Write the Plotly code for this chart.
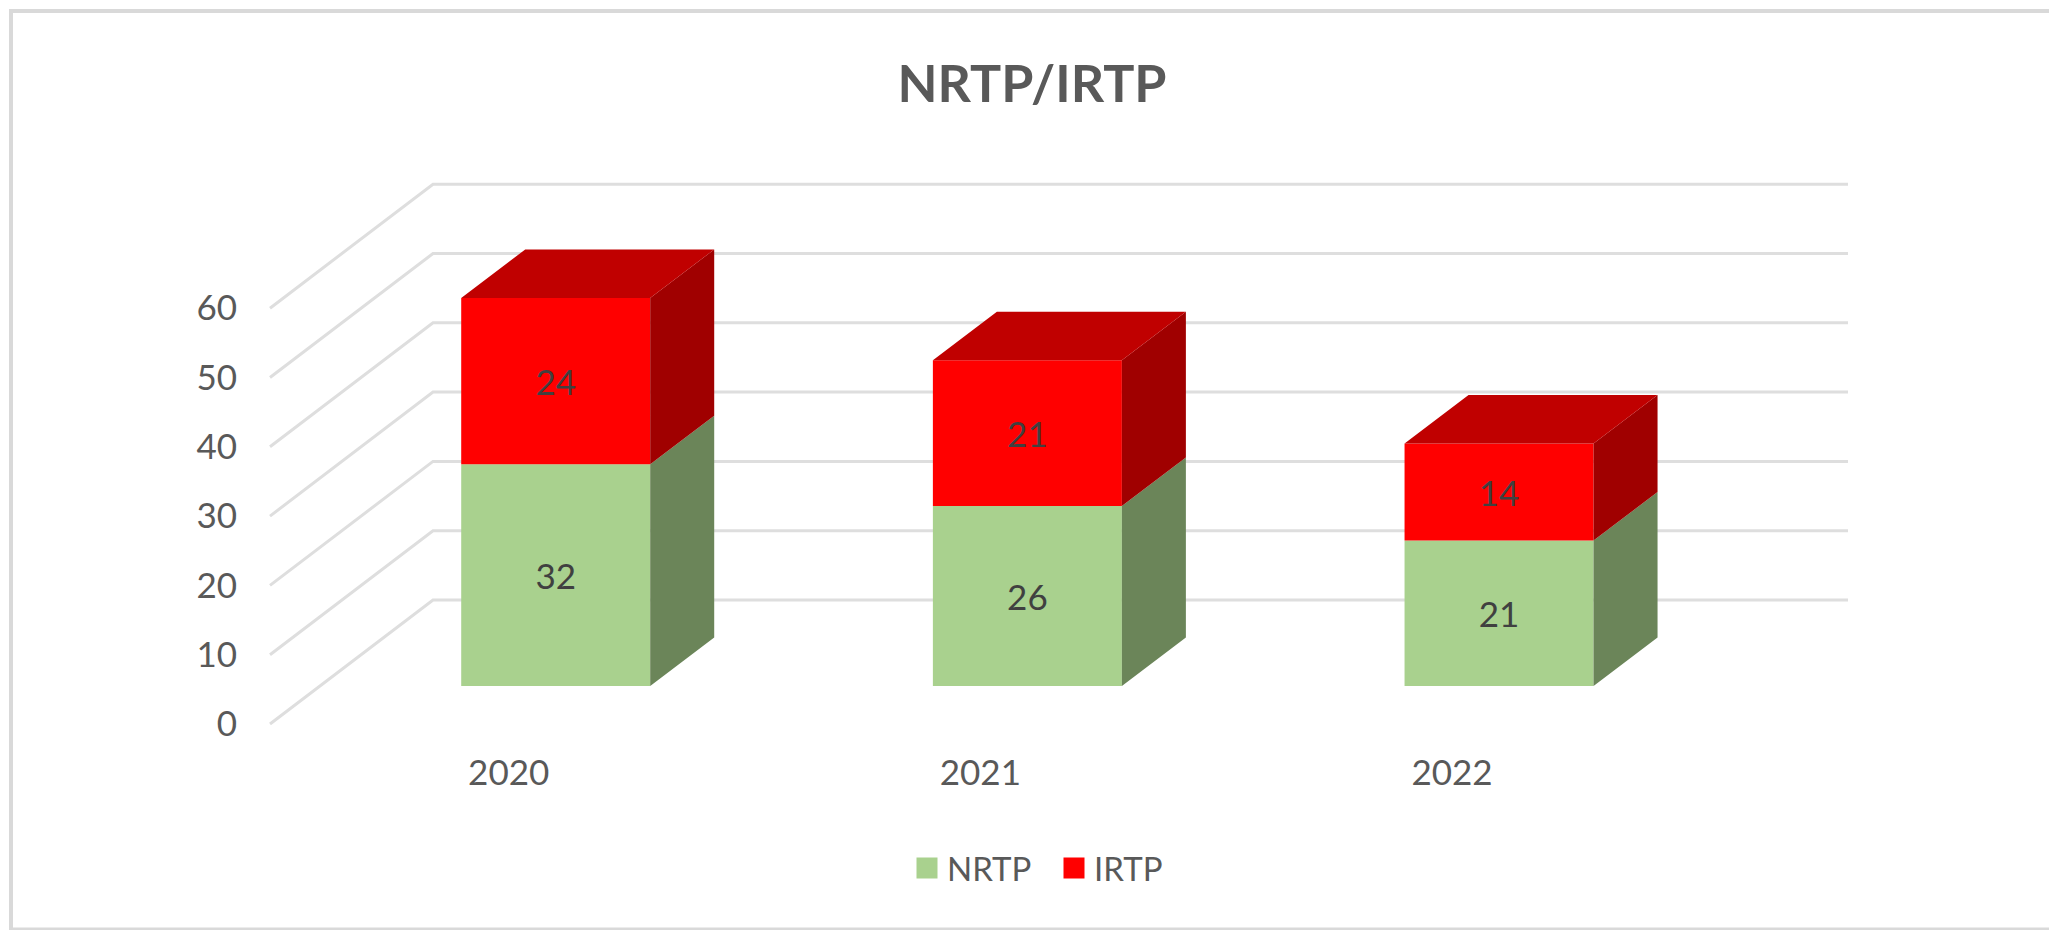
import plotly.graph_objects as go

# ---- data ----
years = ["2020", "2021", "2022"]
nrtp = [32, 26, 21]
irtp = [24, 21, 14]
y_ticks = [0, 10, 20, 30, 40, 50, 60]

# ---- style / projection constants ----
W, H = 2049, 930
PX_X = 471.67        # px per category
PX_Y = 6.93          # px per value unit
X0_PX = 270 + PX_X / 2  # px of category 0 on the front edge of the floor
Y0_PX = 724          # px of value 0 on the front edge of the floor
WALL_DX, WALL_DY = 163 / PX_X, 124 / PX_Y     # full depth of chart box
BAR_F0 = 0.306       # depth fraction at which bars' front face sits
BAR_DX, BAR_DY = 64 / PX_X, 48.5 / PX_Y       # depth of bar
BAR_W = 189 / PX_X
GREEN, GREEN_S = "#A9D18E", "#6B8559"
RED, RED_TOP, RED_S = "#FF0000", "#C00000", "#A00000"
GRID = "#DEDEDE"
TXT = "#595959"
LBL = "#404040"
FONT = "Lato"
FS = 35

xs = list(range(len(years)))
bx = [x + BAR_F0 * WALL_DX for x in xs]
by0 = BAR_F0 * WALL_DY
base_n = [by0] * len(xs)
base_i = [by0 + n for n in nrtp]


def side_faces(bases, vals):
    px, py = [], []
    for x, b, v in zip(bx, bases, vals):
        r = x + BAR_W / 2
        px += [r, r + BAR_DX, r + BAR_DX, r, r, None]
        py += [b, b + BAR_DY, b + v + BAR_DY, b + v, b, None]
    return px, py


def top_faces(bases, vals):
    px, py = [], []
    for x, b, v in zip(bx, bases, vals):
        l, r = x - BAR_W / 2, x + BAR_W / 2
        t = b + v
        px += [l, r, r + BAR_DX, l + BAR_DX, l, None]
        py += [t, t, t + BAR_DY, t + BAR_DY, t, None]
    return px, py


fig = go.Figure()

for name, vals, bases, col in [("NRTP", nrtp, base_n, GREEN), ("IRTP", irtp, base_i, RED)]:
    fig.add_trace(go.Bar(
        x=bx, y=vals, base=bases, width=BAR_W, name=name, showlegend=False,
        marker=dict(color=col, line=dict(width=0)),
        text=[str(v) for v in vals], textposition="inside", insidetextanchor="middle",
        textangle=0, constraintext="none",
        textfont=dict(family=FONT, size=FS, color=LBL), hoverinfo="skip",
    ))

for (fx, fy), col in [
    (side_faces(base_n, nrtp), GREEN_S),
    (side_faces(base_i, irtp), RED_S),
    (top_faces(base_i, irtp), RED_TOP),
]:
    fig.add_trace(go.Scatter(x=fx, y=fy, mode="lines", fill="toself", fillcolor=col,
                             line=dict(width=0, color=col), showlegend=False, hoverinfo="skip"))

# legend entries
for name, col in [("NRTP", GREEN), ("IRTP", RED)]:
    fig.add_trace(go.Scatter(x=[None], y=[None], mode="markers", name=name,
                             marker=dict(symbol="square", size=16, color=col,
                                         line=dict(width=5, color=col))))

# chart-box gridlines: side wall then back wall
left = -0.5
right = len(years) - 0.5
shapes = []
for v in y_ticks:
    path = (f"M {left} {v} L {left + WALL_DX} {v + WALL_DY} "
            f"L {right + WALL_DX} {v + WALL_DY}")
    shapes.append(dict(type="path", path=path, xref="x", yref="y", layer="below",
                       line=dict(color=GRID, width=3)))

# outer chart frame (open on the right)
FRAME = "#D9D9D9"
shapes += [
    dict(type="line", xref="paper", yref="paper", x0=11 / W, x1=11 / W, y0=0, y1=1 - 9 / H,
         line=dict(color=FRAME, width=4)),
    dict(type="line", xref="paper", yref="paper", x0=9 / W, x1=1, y0=1 - 11 / H, y1=1 - 11 / H,
         line=dict(color=FRAME, width=4)),
    dict(type="line", xref="paper", yref="paper", x0=9 / W, x1=1, y0=1 / H, y1=1 / H,
         line=dict(color=FRAME, width=3)),
]

fig.update_layout(
    width=W, height=H, autosize=False,
    margin=dict(l=0, r=0, t=0, b=0),
    paper_bgcolor="white", plot_bgcolor="rgba(0,0,0,0)",
    barmode="overlay",
    shapes=shapes,
    title=dict(text="<b>NRTP/IRTP</b>", x=1032 / W, xanchor="center", xref="paper",
               y=1 - 84 / H, yanchor="middle", yref="paper",
               font=dict(family=FONT, size=52, color=TXT)),
    xaxis=dict(
        range=[(0 - X0_PX) / PX_X, (W - X0_PX) / PX_X],
        tickmode="array", tickvals=[x + 0.006 for x in xs], ticktext=years,
        anchor="free", position=1 - 749 / H,
        showgrid=False, zeroline=False, showline=False, ticks="",
        tickfont=dict(family=FONT, size=FS, color=TXT), fixedrange=True,
    ),
    yaxis=dict(
        range=[(Y0_PX - H) / PX_Y, Y0_PX / PX_Y],
        tickmode="array", tickvals=y_ticks,
        anchor="free", position=237 / W,
        showgrid=False, zeroline=False, showline=False, ticks="",
        tickfont=dict(family=FONT, size=FS, color=TXT), fixedrange=True,
    ),
    showlegend=True,
    legend=dict(orientation="h", x=907 / W, xanchor="left", y=1 - 868 / H, yanchor="middle",
                font=dict(family=FONT, size=33, color=TXT), bgcolor="rgba(0,0,0,0)",
                traceorder="normal", entrywidth=102, entrywidthmode="pixels"),
)

fig.write_html("out.html", config={"displayModeBar": False},
               post_script="document.body.style.margin='0';document.documentElement.style.overflow='hidden';")
